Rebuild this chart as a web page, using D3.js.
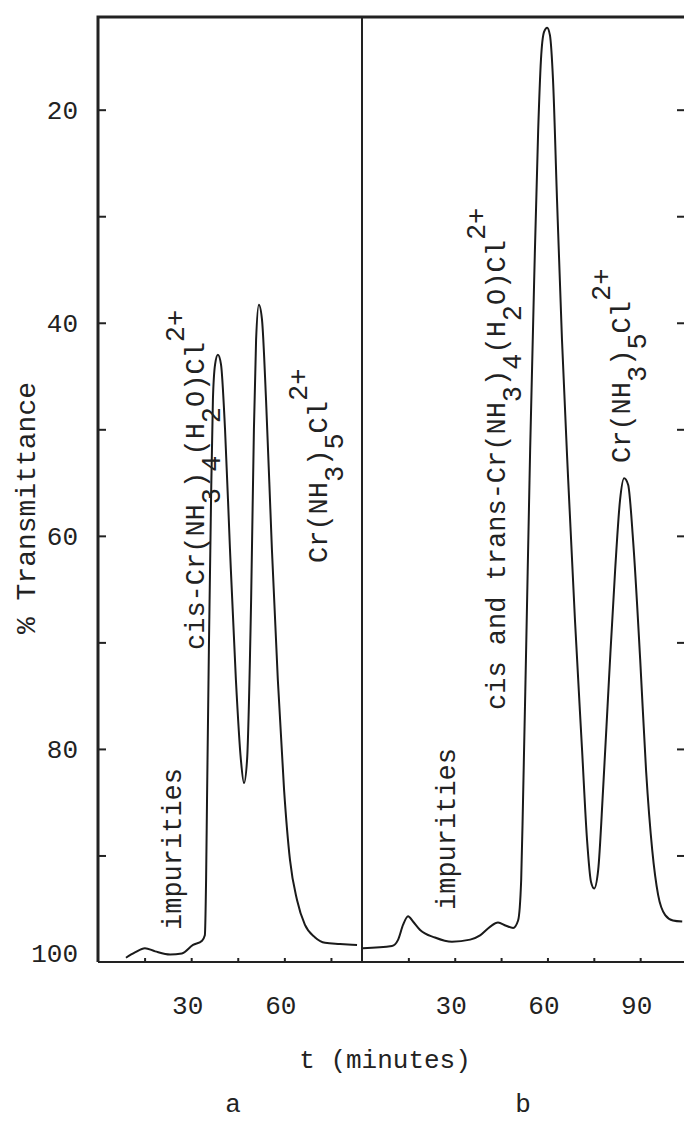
<!DOCTYPE html>
<html lang="en">
<head>
<meta charset="UTF-8">
<title>Ion exchange elution</title>
<script src="https://d3js.org/d3.v7.min.js"></script>
<style>
body, html {
	margin: 0;
	padding: 0;
	background: white;
}
text {
	font-family: "Liberation Mono", "DejaVu Sans Mono", monospace;
	fill: #222;
}
.frame {
	stroke: #222;
	stroke-width: 2px;
	fill: none;
}
.axis path {
	display: none;
}
.axis line {
	stroke: #222;
	stroke-width: 2px;
}
.trace {
	fill: none;
	stroke: #1a1a1a;
	stroke-width: 2px;
}
</style>
</head>
<body>
<script>
// run a: time (minutes) and % transmittance
var tA   = [9, 11.9, 15.1, 18.4, 23.2, 27, 30.6, 33.5, 34.4, 34.8, 35.1, 35.7, 36.4, 37, 37.7, 38.6, 39.6, 40.9, 42.5, 44.4, 46, 47, 48, 49.3, 50.2, 50.9, 51.8, 52.8, 54.1, 56, 57.9, 59.9, 61.8, 64.1, 66.6, 69.9, 73.1, 77.9, 83.4];
var pctA = [99.6, 99.1, 98.7, 99, 99.3, 99.2, 98.4, 98, 97.5, 92.3, 84.8, 70.7, 56.6, 47.2, 43.9, 43, 43.9, 50, 61.3, 73.5, 81, 83.2, 81, 66, 50, 41.6, 38.3, 39.7, 47.2, 61.3, 73.5, 83.8, 90.4, 94.2, 96.5, 97.7, 98.2, 98.3, 98.4];

// run b
var tB   = [0.3, 9.7, 11.7, 13.3, 14.9, 16.5, 18.8, 23.6, 29.1, 35, 38.2, 41.4, 44, 46.6, 48.9, 50.5, 51.5, 52.1, 53.1, 54.4, 55.7, 57, 57.9, 58.9, 59.9, 60.8, 61.8, 63.1, 64.7, 66.7, 68.9, 71.2, 72.8, 74.1, 75.1, 76.4, 78, 79.9, 81.9, 83.5, 84.8, 86.1, 87.7, 90, 91.9, 93.9, 95.8, 98.1, 100.6, 103.6];
var pctB = [98.7, 98.5, 97.9, 96.5, 95.7, 96.2, 97, 97.7, 98.1, 97.9, 97.5, 96.7, 96.3, 96.6, 96.8, 96.1, 92.3, 84.8, 70.7, 51.9, 36, 21.9, 15.3, 12.7, 12.3, 13, 17.2, 28.5, 41.6, 54.7, 67.9, 80.1, 88.5, 92.5, 93.1, 91.4, 83.8, 73.5, 63.2, 56.6, 54.6, 55.2, 60.4, 71.6, 82, 89.5, 93.7, 95.6, 96.1, 96.2];

var yTickValues  = [20, 30, 40, 50, 60, 70, 80, 90];
var yLabelValues = [20, 40, 60, 80, 100];
var xTicksA  = [15, 30, 45, 60, 75];
var xLabelsA = [30, 60];
var xTicksB  = [15, 30, 45, 60, 75, 90];
var xLabelsB = [30, 60, 90];

var w = 684, h = 1122;
var mLeft = 98, mTop = 17, mBottom = 962, split = 362, mRight = 685;
var noteSize = "27px";

var svg = d3.select("body").append("svg")
	.attr("width", w)
	.attr("height", h);

svg.append("rect").attr("width", w).attr("height", h).attr("fill", "white");

var y = d3.scaleLinear().domain([100, 11.3]).range([mBottom, mTop]);
var xA = d3.scaleLinear().domain([0, 85]).range([mLeft, split]);
var xB = d3.scaleLinear().domain([0, 104.5]).range([split, mRight]);

// frame
svg.append("path").classed("frame", true)
	.attr("d", "M" + mLeft + "," + mBottom + "V" + mTop + "H" + (mRight + 2))
	.style("stroke-width", "3px");
svg.append("line").classed("frame", true)
	.attr("x1", mLeft).attr("x2", mRight + 2).attr("y1", mBottom).attr("y2", mBottom);
svg.append("line").classed("frame", true)
	.attr("x1", split).attr("x2", split).attr("y1", mTop).attr("y2", mBottom);

// y ticks, pointing inwards from both sides
svg.append("g").classed("axis", true)
	.attr("transform", "translate(" + mLeft + ",0)")
	.call(d3.axisRight(y).tickValues(yTickValues).tickSize(8).tickFormat(""));
svg.append("g").classed("axis", true)
	.attr("transform", "translate(" + mRight + ",0)")
	.call(d3.axisLeft(y).tickValues(yTickValues).tickSize(8).tickFormat(""));

var yLab = svg.append("g").classed("axis", true)
	.attr("transform", "translate(" + mLeft + ",0)")
	.call(d3.axisLeft(y).tickValues(yLabelValues).tickSize(0).tickPadding(20).tickFormat(d3.format("d")));
yLab.selectAll("text").style("font-size", "26px")
	.attr("dy", function(d){ return d == 100 ? "-0.02em" : "0.32em"; });

// x ticks
svg.append("g").classed("axis", true)
	.attr("transform", "translate(0," + mBottom + ")")
	.call(d3.axisTop(xA).tickValues(xTicksA).tickSize(4).tickFormat(""));
svg.append("g").classed("axis", true)
	.attr("transform", "translate(0," + mBottom + ")")
	.call(d3.axisTop(xB).tickValues(xTicksB).tickSize(4).tickFormat(""));

[[xA, xLabelsA], [xB, xLabelsB]].forEach(function(p){
	var g = svg.append("g").classed("axis", true)
		.attr("transform", "translate(-4," + mBottom + ")")
		.call(d3.axisBottom(p[0]).tickValues(p[1]).tickSize(0).tickPadding(34));
	g.selectAll("text").style("font-size", "26px");
});

// traces
var line = function(sx){
	return d3.line()
		.x(function(d){ return sx(d[0]); })
		.y(function(d){ return y(d[1]); })
		.curve(d3.curveMonotoneX);
};
svg.append("path").classed("trace", true)
	.attr("d", line(xA)(d3.zip(tA, pctA)));
svg.append("path").classed("trace", true)
	.attr("d", line(xB)(d3.zip(tB, pctB)));

// titles
svg.append("text")
	.attr("transform", "translate(35,508) rotate(-90)")
	.style("text-anchor", "middle")
	.style("font-size", "28px")
	.text("% Transmittance");

svg.append("text")
	.attr("x", 385).attr("y", 1068)
	.style("text-anchor", "middle")
	.style("font-size", "26px")
	.text("t (minutes)");

svg.append("text").attr("x", 233).attr("y", 1112)
	.style("text-anchor", "middle").style("font-size", "26px").text("a");
svg.append("text").attr("x", 523).attr("y", 1112)
	.style("text-anchor", "middle").style("font-size", "26px").text("b");

// rotated peak labels; parts are [text, shift] with shift in em (+ = subscript)
function vlabel(x, y0, parts){
	var t = svg.append("text")
		.attr("transform", "translate(" + x + "," + y0 + ") rotate(-90)")
		.style("font-size", noteSize);
	var cur = 0;
	parts.forEach(function(p){
		var s = p[1] || 0;
		t.append("tspan").attr("dy", (s - cur) + "em").text(p[0]);
		cur = s;
	});
}

var complexA = [["cis-Cr(NH"], ["3", 0.6], [")"], ["4", 0.6], ["(H"], ["2", 0.6], ["O)Cl"], ["2+", -0.75]];
var complexB = [["cis and trans-Cr(NH"], ["3", 0.6], [")"], ["4", 0.6], ["(H"], ["2", 0.6], ["O)Cl"], ["2+", -0.75]];
var chloro   = [["Cr(NH"], ["3", 0.6], [")"], ["5", 0.6], ["Cl"], ["2+", -0.75]];

vlabel(181, 930, [["impurities"]]);
vlabel(455, 910, [["impurities"]]);
vlabel(204, 650, complexA);
vlabel(505, 710, complexB);
vlabel(327, 563, chloro);
vlabel(630, 463, chloro);
</script>
</body>
</html>
